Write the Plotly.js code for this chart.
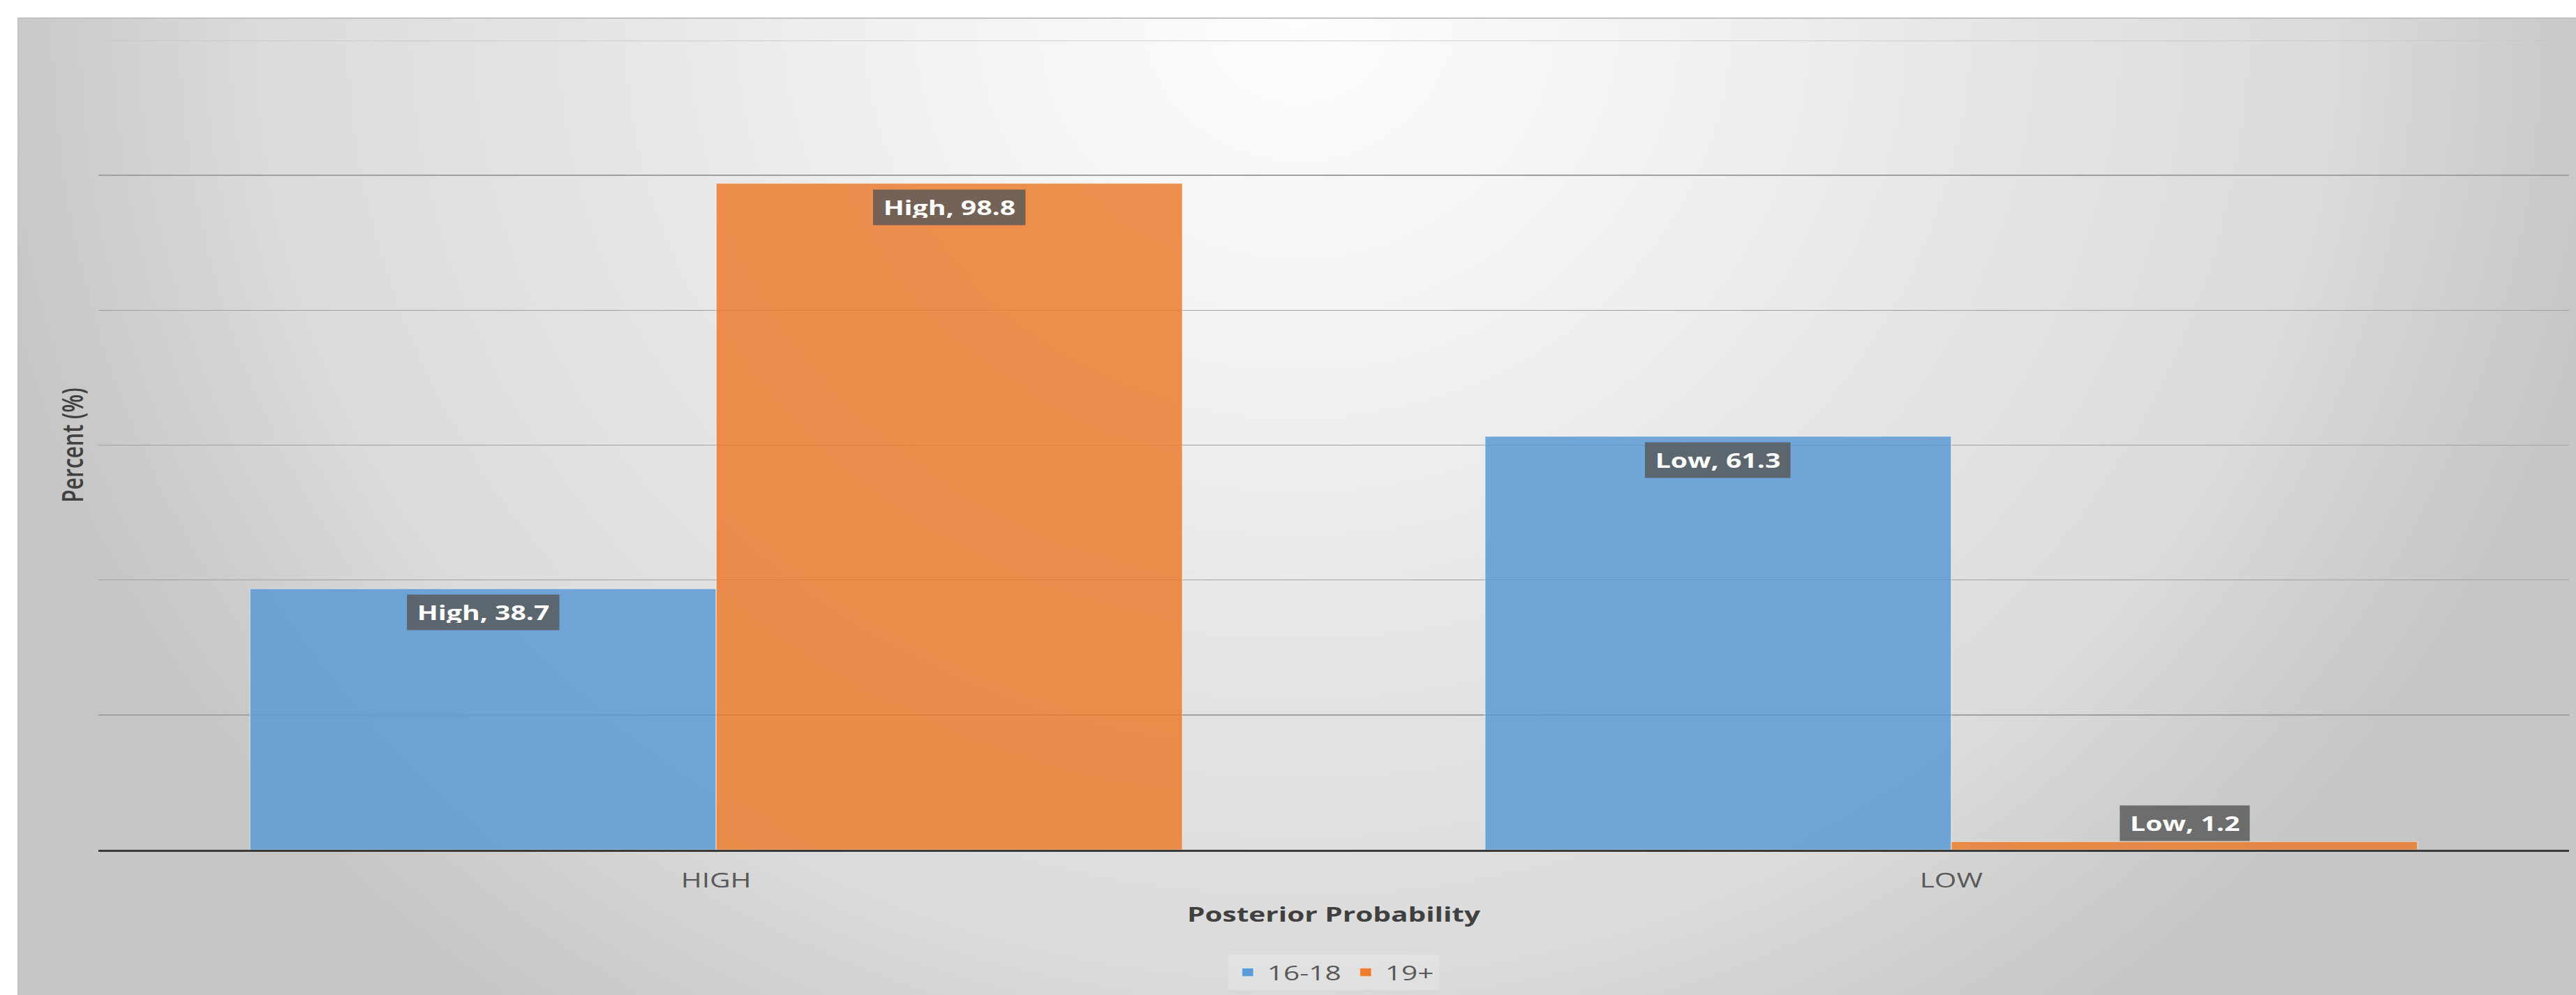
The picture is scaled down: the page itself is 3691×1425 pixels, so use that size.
<!DOCTYPE html>
<html>
<head>
<meta charset="utf-8">
<script src="https://cdn.plot.ly/plotly-3.0.1.min.js"></script>
<style>
  html, body { margin: 0; padding: 0; background: #ffffff; overflow: hidden; }
  #panel {
    position: absolute; left: 25px; top: 25px; width: 3666px; height: 1400px;
    box-sizing: border-box;
    border-top: 2px solid #c2c2c2; border-left: 2px solid #c2c2c2;
    background: radial-gradient(ellipse 1900px 1750px at 50% 0%,
      #fdfdfd 0%, #f1f1f1 30%, #e4e4e4 55%, #dbdbdb 78%, #cdcdcd 92%, #c6c6c6 100%);
  }
  /* the chart is laid out narrow and widened horizontally */
  #chart {
    position: absolute; left: 0; top: 0; width: 2636px; height: 1425px;
    transform: scaleX(1.4); transform-origin: 0 0;
  }
</style>
</head>
<body>
<div id="panel"></div>
<div id="chart"></div>
<script>
// Posterior probability by age group
const categories = ['HIGH', 'LOW'];
const pointNames = ['High', 'Low'];
const seriesNames = ['16-18', '19+'];
const values1618 = [38.7, 61.3];
const values19plus = [98.8, 1.2];
const gridTicks = [20, 40, 60, 80, 100];
const yMax = 120;

const BARGAP = 0.245;
const allSeries = [values1618, values19plus];
const colors = ['#5B9BD5', '#ED7D31'];

const traces = allSeries.map((vals, s) => ({
  type: 'bar',
  name: seriesNames[s],
  x: categories,
  y: vals,
  marker: {
    color: colors[s],
    opacity: 0.85,
    line: { color: 'rgba(255,255,255,0.45)', width: 1.2 }
  },
  hoverinfo: 'none'
}));

// data callouts: "Name, value" in a dark box near the top of each bar
const barOffset = (1 - BARGAP) / 4;
const annotations = [];
allSeries.forEach((vals, s) => {
  vals.forEach((v, i) => {
    const outside = v < 5;
    annotations.push({
      xref: 'x', yref: 'y',
      x: i + (s === 0 ? -barOffset : barOffset),
      y: v,
      text: `${pointNames[i]}, ${v}`,
      showarrow: false,
      xanchor: 'center',
      yanchor: outside ? 'bottom' : 'top',
      yshift: outside ? 0 : -8,
      font: { family: 'Open Sans', size: 28, color: '#ffffff', weight: 700 },
      bgcolor: 'rgba(88,88,88,0.82)',
      borderpad: 10,
      height: 30
    });
  });
});

const layout = {
  width: 2636,
  height: 1425,
  paper_bgcolor: 'rgba(0,0,0,0)',
  plot_bgcolor: 'rgba(0,0,0,0)',
  margin: { l: 101, r: 7, t: 58, b: 205 },
  barmode: 'group',
  bargap: BARGAP,
  bargroupgap: 0,
  font: { family: 'Open Sans', color: '#595959' },
  showlegend: true,
  xaxis: {
    type: 'category',
    showgrid: false,
    showline: true,
    linecolor: '#3a3a3a',
    linewidth: 3,
    ticks: '',
    ticklabelstandoff: 16,
    tickfont: { family: 'Open Sans', size: 29, color: '#595959' },
    title: {
      text: 'Posterior Probability',
      font: { family: 'Open Sans', size: 29, color: '#404040', weight: 700 },
      standoff: 22
    },
    automargin: false
  },
  yaxis: {
    range: [0, yMax],
    tickvals: gridTicks,
    showticklabels: false,
    ticks: '',
    showgrid: true,
    gridcolor: '#a0a0a0',
    gridwidth: 1.5,
    zeroline: false,
    showline: false,
    title: {
      text: 'Percent (%)',
      font: { family: 'Open Sans', size: 30, color: '#404040', weight: 600 },
      standoff: 5
    },
    automargin: false
  },
  legend: {
    orientation: 'h',
    x: 0.5, xanchor: 'center',
    y: -0.1515, yanchor: 'middle',
    font: { family: 'Open Sans', size: 29, color: '#595959' },
    bgcolor: 'rgba(255,255,255,0.18)'
  },
  shapes: [{
    type: 'line', xref: 'paper', x0: 0, x1: 1, yref: 'y', y0: yMax, y1: yMax,
    line: { color: '#c6c6c6', width: 1.5 }, layer: 'below'
  }],
  annotations: annotations
};

Plotly.newPlot('chart', traces, layout, { displayModeBar: false, staticPlot: true });
</script>
</body>
</html>
